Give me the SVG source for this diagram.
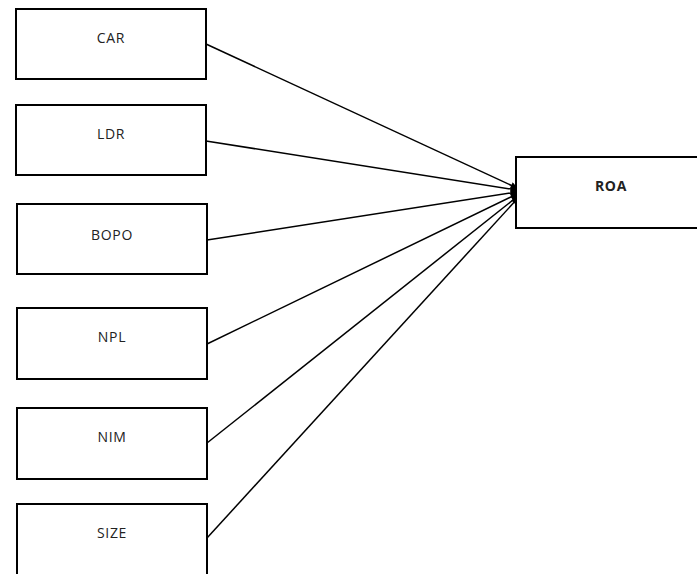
<svg xmlns="http://www.w3.org/2000/svg" width="697" height="574" viewBox="0 0 697 574">
<style>
.box{fill:#fff;stroke:#000;stroke-width:2}
.lbl{font-family:"Open Sans","Liberation Sans",sans-serif;font-size:14px;letter-spacing:0.7px;fill:#222;text-anchor:middle}
.edge{stroke:#000;stroke-width:1.5;fill:none;marker-end:url(#ah)}
</style>
<defs>
<marker id="ah" viewBox="0 0 10 10" refX="9" refY="5" markerWidth="8" markerHeight="7" orient="auto" markerUnits="userSpaceOnUse">
<path d="M0,0 L10,5 L0,10 z" fill="#000"/>
</marker>
</defs>
<rect width="697" height="574" fill="#fff"/>
<g id="connectors">
<line class="edge" x1="206" y1="44" x2="517" y2="188"/>
<line class="edge" x1="206" y1="141" x2="517" y2="190"/>
<line class="edge" x1="207" y1="240" x2="517" y2="192"/>
<line class="edge" x1="207" y1="344" x2="517" y2="194"/>
<line class="edge" x1="207" y1="443" x2="518" y2="196"/>
<line class="edge" x1="207" y1="538" x2="518" y2="198"/>
</g>
<g id="CAR"><rect class="box" x="16" y="9" width="190" height="70"/><text class="lbl" x="111" y="43">CAR</text></g>
<g id="LDR"><rect class="box" x="16" y="105" width="190" height="70"/><text class="lbl" x="111" y="139">LDR</text></g>
<g id="BOPO"><rect class="box" x="17" y="204" width="190" height="70"/><text class="lbl" x="112" y="240">BOPO</text></g>
<g id="NPL"><rect class="box" x="17" y="308" width="190" height="71"/><text class="lbl" x="112" y="342">NPL</text></g>
<g id="NIM"><rect class="box" x="17" y="408" width="190" height="71"/><text class="lbl" x="112" y="442">NIM</text></g>
<g id="SIZE"><rect class="box" x="17" y="504" width="190" height="80"/><text class="lbl" x="112" y="538">SIZE</text></g>
<g id="ROA"><rect class="box" x="516" y="157" width="190" height="71"/><text class="lbl" x="611" y="191" font-weight="bold">ROA</text></g>
</svg>
